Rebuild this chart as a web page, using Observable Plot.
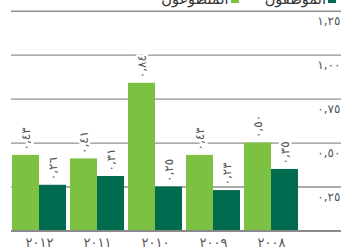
<!DOCTYPE html>
<html>
<head>
<meta charset="utf-8">
<script src="https://cdn.jsdelivr.net/npm/d3@7"></script>
<script src="https://cdn.jsdelivr.net/npm/@observablehq/plot@0.6"></script>
<style>
  html, body { margin: 0; padding: 0; background: #fff; overflow: hidden; }
  body { width: 341px; height: 249px; font-family: "DejaVu Sans", sans-serif; }
  #legend { direction: rtl; display: flex; align-items: center; height: 12px; margin-top: -7px;
            padding-right: 5px; font-size: 14.5px; line-height: 12px; color: #333; }
  .item { display: flex; align-items: center; margin-left: 26px; }
  .sw { width: 8px; height: 8px; margin-left: 2px; }
  svg { display: block; }
</style>
</head>
<body>
<div id="legend"></div>
<div id="chart"></div>
<script>
const years = ["2008", "2009", "2010", "2011", "2012"];
const employees = [0.35, 0.23, 0.25, 0.31, 0.26];   // dark green
const volunteers = [0.50, 0.43, 0.84, 0.41, 0.43];  // light green
const seriesNames = ["الموظفون", "المتطوعون"];
const seriesColors = ["#006b4f", "#7cc142"];
const yTicks = [0.25, 0.5, 0.75, 1.0, 1.25];

const arabicDigits = "٠١٢٣٤٥٦٧٨٩";
const toArabic = s => String(s).replace(/[0-9]/g, d => arabicDigits[+d]);
const fmt = v => toArabic(v.toFixed(2).replace(".", ","));

const rows = years.map((y, i) => ({year: y, emp: employees[i], vol: volunteers[i]}));

// legend
const legend = document.getElementById("legend");
seriesNames.forEach((name, i) => {
  const it = document.createElement("div");
  it.className = "item";
  const sw = document.createElement("span");
  sw.className = "sw";
  sw.style.background = seriesColors[i];
  const t = document.createElement("span");
  t.textContent = name;
  it.appendChild(sw);
  it.appendChild(t);
  legend.appendChild(it);
});

const half = 27;
const chart = Plot.plot({
  width: 341,
  height: 244,
  marginLeft: 11,
  marginRight: 0,
  marginTop: 5.7,
  marginBottom: 18.5,
  style: {fontFamily: "DejaVu Sans, sans-serif", background: "#fff"},
  x: {type: "band", domain: [...years].reverse(), range: [12, 298], paddingInner: 0.069, paddingOuter: 0, axis: null},
  y: {domain: [0, 1.25], axis: null},
  marks: [
    Plot.ruleY(yTicks, {stroke: "#8f8f8f", strokeWidth: 1.4}),
    Plot.barY(rows, {x: "year", y: "vol", fill: seriesColors[1], insetRight: half}),
    Plot.barY(rows, {x: "year", y: "emp", fill: seriesColors[0], insetLeft: half}),
    Plot.ruleY([0], {stroke: "#8a8a8a", strokeWidth: 2}),
    Plot.text(rows, {x: "year", y: "vol", text: d => fmt(d.vol), rotate: -90, textAnchor: "start",
      dx: -half / 2, dy: -5, fill: "#555", stroke: "white", strokeWidth: 5, fontSize: 12}),
    Plot.text(rows, {x: "year", y: "emp", text: d => fmt(d.emp), rotate: -90, textAnchor: "start",
      dx: half / 2, dy: -5, fill: "#555", stroke: "white", strokeWidth: 5, fontSize: 12}),
    Plot.text(yTicks, {y: d => d, text: d => fmt(d), frameAnchor: "right", textAnchor: "end",
      dx: -1, dy: 10, fill: "#555", fontSize: 12}),
    Plot.text(rows, {x: "year", y: 0, text: d => toArabic(d.year), dy: 12, fill: "#555", fontSize: 13})
  ]
});
document.getElementById("chart").appendChild(chart);
</script>
</body>
</html>
